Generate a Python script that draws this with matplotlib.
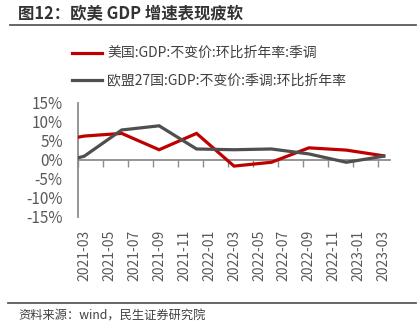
import matplotlib
matplotlib.use("Agg")
import matplotlib.pyplot as plt
from matplotlib.lines import Line2D
from matplotlib.transforms import blended_transform_factory

plt.rcParams['font.family'] = ['Noto Sans CJK SC', 'DejaVu Sans']

# quarterly points, 2020-12 lies just left of the visible window
months = ["2020-12", "2021-03", "2021-06", "2021-09", "2021-12", "2022-03",
          "2022-06", "2022-09", "2022-12", "2023-03"]
us_gdp = [4.5, 6.3, 7.0, 2.7, 7.0, -1.6, -0.6, 3.2, 2.6, 1.1]
eu_gdp = [-1.6, 1.0, 7.9, 9.0, 2.9, 2.7, 2.9, 1.6, -0.6, 1.0]

tick_labels = ["2021-03", "2021-05", "2021-07", "2021-09", "2021-11", "2022-01",
               "2022-03", "2022-05", "2022-07", "2022-09", "2022-11", "2023-01",
               "2023-03"]
y_ticks = [15, 10, 5, 0, -5, -10, -15]

us_name = "美国:GDP:不变价:环比折年率:季调"
eu_name = "欧盟27国:GDP:不变价:季调:环比折年率"


def month_index(s):
    y, m = s.split("-")
    return (int(y) - 2021) * 12 + int(m) - 3


W, H = 420, 334
fig = plt.figure(figsize=(W / 100, H / 100), dpi=100)
ax = fig.add_axes([78 / W, 1 - 217 / H, 312 / W, 114 / H])

x = [month_index(m) for m in months]
red, grey, axis_grey = "#C00000", "#4F4F4F", "#8C8C8C"
ax.plot(x, us_gdp, color=red, lw=2.3, zorder=3, solid_joinstyle="miter")
ax.plot(x, eu_gdp, color=grey, lw=2.3, zorder=3, solid_joinstyle="miter")

ax.set_xlim(-0.5, 24.5)
ax.set_ylim(-15, 15)

for s in ["top", "right"]:
    ax.spines[s].set_visible(False)
ax.spines["left"].set_color(axis_grey)
ax.spines["left"].set_linewidth(1.3)
ax.spines["bottom"].set_position(("data", 0))
ax.spines["bottom"].set_color(axis_grey)
ax.spines["bottom"].set_linewidth(1.3)

ax.set_xticks([-0.5 + 2 * k for k in range(13)])
ax.tick_params(axis="x", direction="out", length=5, width=1, color=axis_grey,
               labelbottom=False)
ax.set_yticks(y_ticks)
ax.set_yticklabels([f"{v}%" for v in y_ticks])
ax.tick_params(axis="y", length=0, pad=11, labelsize=11, labelcolor="#595959")

trans = blended_transform_factory(ax.transData, ax.transAxes)
for i, lab in enumerate(tick_labels):
    ax.text(month_index(lab), -0.11, lab, transform=trans, rotation=90,
            ha="center", va="top", fontsize=10, color="#595959")

# title and separators
fig.text(18 / W, 1 - 14 / H, "图12：欧美 GDP 增速表现疲软", fontsize=11.8,
         fontweight="bold", color="#333333", va="center", ha="left")
fig.add_artist(Line2D([10 / W, 416 / W], [1 - 25 / H] * 2, color="#595959",
                      lw=1.3))
fig.add_artist(Line2D([8 / W, 416 / W], [1 - 303 / H] * 2, color="#595959",
                      lw=1.3))
fig.text(18 / W, 1 - 316 / H, "资料来源：wind，民生证券研究院", fontsize=8.8,
         color="#404040", va="center", ha="left")

# legend
for yy, col, name in [(53, red, us_name), (80, grey, eu_name)]:
    fig.add_artist(Line2D([72 / W, 102 / W], [1 - yy / H] * 2, color=col,
                          lw=2.3))
    fig.text(107 / W, 1 - yy / H, name, fontsize=10, color="#404040",
             va="center", ha="left")

fig.savefig("out.png", dpi=100)
